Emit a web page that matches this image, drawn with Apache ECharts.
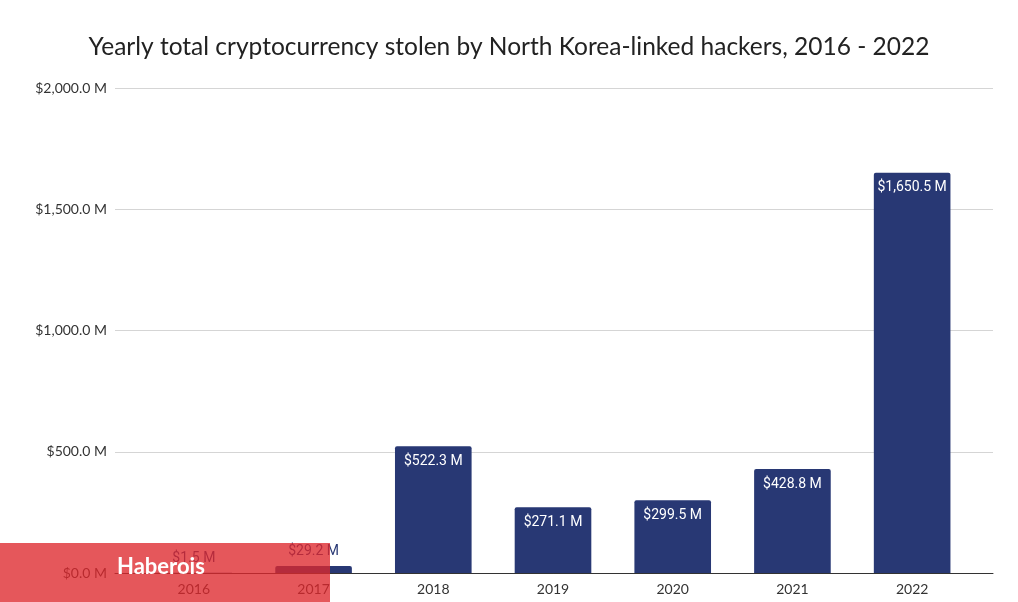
<!DOCTYPE html>
<html lang="en">
<head>
<meta charset="UTF-8">
<title>Chart</title>
<style>html,body{margin:0;padding:0;background:#fff;}</style>
</head>
<body>
<div id="chart" style="width:1018px;height:602px;"></div>
<script src="https://cdn.jsdelivr.net/npm/echarts@6/dist/echarts.min.js"></script>
<script>
var years = ['2016', '2017', '2018', '2019', '2020', '2021', '2022'];
var stolen = [1.5, 29.2, 522.3, 271.1, 299.5, 428.8, 1650.5];
var yTicks = [0, 500, 1000, 1500, 2000];

function fmt(v) {
    return '$' + v.toLocaleString('en-US', {minimumFractionDigits: 1, maximumFractionDigits: 1}) + ' M';
}

var chart = echarts.init(document.getElementById('chart'));
var seriesData = stolen.map(function(v) {
    var inside = v > 100;
    return {
        value: v,
        label: {
            position: inside ? 'insideTop' : 'top',
            color: inside ? '#fff' : '#283874',
            distance: inside ? 8 : 7
        }
    };
});

chart.setOption({
    title: {
        text: 'Yearly total cryptocurrency stolen by North Korea-linked hackers, 2016 - 2022',
        left: 'center',
        top: 30,
        textStyle: {fontFamily: 'Lato', fontWeight: 'normal', fontSize: 24.5, color: '#222'}
    },
    // grid 0: bars, grid 1: full-width gridlines and axis line
    grid: [
        {left: 134, right: 46, top: 88, bottom: 29},
        {left: 115, right: 25, top: 88, bottom: 29}
    ],
    xAxis: [{
        type: 'category',
        gridIndex: 0,
        data: years,
        axisTick: {show: false},
        axisLine: {show: false},
        axisLabel: {color: '#333', fontFamily: 'Lato', fontSize: 14, margin: 9}
    }, {
        type: 'value',
        gridIndex: 1,
        min: 0, max: 1,
        axisLabel: {show: false},
        axisTick: {show: false},
        splitLine: {show: false},
        axisLine: {show: true, onZero: false, lineStyle: {color: '#333'}}
    }],
    yAxis: [{
        type: 'value',
        gridIndex: 0,
        min: yTicks[0],
        max: yTicks[yTicks.length - 1],
        interval: 500,
        axisLabel: {show: false},
        axisLine: {show: false},
        axisTick: {show: false},
        splitLine: {show: false}
    }, {
        type: 'value',
        gridIndex: 1,
        min: yTicks[0],
        max: yTicks[yTicks.length - 1],
        interval: 500,
        axisLine: {show: false},
        axisTick: {show: false},
        axisLabel: {color: '#333', fontFamily: 'Lato', fontSize: 14, margin: 8, formatter: fmt},
        splitLine: {lineStyle: {color: '#d5d5d5'}}
    }],
    series: [{
        type: 'bar',
        xAxisIndex: 0,
        yAxisIndex: 0,
        data: seriesData,
        barWidth: '64%',
        z: 5,
        itemStyle: {color: '#283874', borderRadius: [2, 2, 0, 0]},
        label: {show: true, fontFamily: 'Roboto', fontSize: 14, formatter: function(p) { return fmt(p.value); }}
    }],
    graphic: [{
        type: 'rect',
        left: 0, top: 543,
        shape: {width: 330, height: 59},
        style: {fill: 'rgba(222,40,45,0.78)'},
        z: 100
    }, {
        type: 'text',
        left: 117, top: 556,
        style: {text: 'Haberois', fill: '#fff', font: 'bold 22px Lato'},
        z: 101
    }]
});
</script>
</body>
</html>
